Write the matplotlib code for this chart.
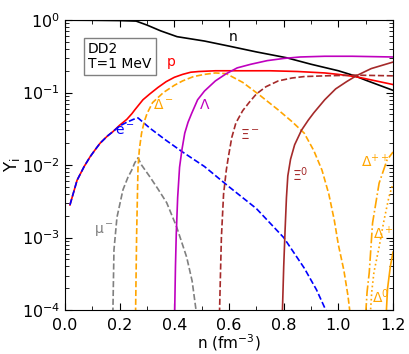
import matplotlib
matplotlib.use("Agg")
import matplotlib.pyplot as plt
import numpy as np

# values, as (density n [fm^-3], log10 Y_i)
n_neutron = [0.0, 0.1, 0.2, 0.26, 0.3, 0.35, 0.41, 0.51, 0.6, 0.7, 0.81, 0.9, 1.0, 1.06, 1.1, 1.15, 1.2]
logY_neutron = [-0.002, -0.004, -0.008, -0.015, -0.07, -0.15, -0.23, -0.29, -0.36, -0.44, -0.52,
                -0.61, -0.70, -0.77, -0.83, -0.90, -0.97]

n_proton = [0.018, 0.044, 0.07, 0.091, 0.11, 0.128, 0.155, 0.175, 0.2, 0.226, 0.245, 0.255,
            0.27, 0.285, 0.31, 0.34, 0.37, 0.40, 0.43, 0.46, 0.49, 0.55, 0.65, 0.75, 0.85,
            0.95, 1.0, 1.06, 1.1, 1.15, 1.2]
logY_proton = [-2.55, -2.21, -2.02, -1.89, -1.79, -1.70, -1.60, -1.54, -1.45, -1.37, -1.29, -1.24,
               -1.17, -1.10, -1.02, -0.93, -0.85, -0.79, -0.75, -0.72, -0.71, -0.70, -0.70,
               -0.70, -0.71, -0.73, -0.75, -0.78, -0.81, -0.85, -0.89]

n_electron = [0.018, 0.044, 0.07, 0.091, 0.11, 0.128, 0.155, 0.175, 0.2, 0.226, 0.25, 0.267,
              0.31, 0.37, 0.43, 0.47, 0.51, 0.6, 0.7, 0.8, 0.875, 0.92, 0.96]
logY_electron = [-2.55, -2.21, -2.02, -1.89, -1.79, -1.70, -1.60, -1.54, -1.46, -1.41, -1.37, -1.35,
                 -1.49, -1.66, -1.82, -1.92, -2.02, -2.3, -2.6, -3.0, -3.42, -3.72, -4.05]

n_muon = [0.175, 0.179, 0.19, 0.212, 0.23, 0.244, 0.255, 0.267, 0.28, 0.31, 0.34, 0.372, 0.408,
          0.445, 0.465, 0.481]
logY_muon = [-4.05, -3.17, -2.72, -2.34, -2.17, -2.07, -1.97, -1.9, -2.0, -2.16, -2.33, -2.52,
             -2.85, -3.27, -3.6, -4.05]

n_delta_m = [0.258, 0.262, 0.267, 0.272, 0.28, 0.29, 0.30, 0.32, 0.36, 0.40, 0.43, 0.47, 0.51,
             0.55, 0.59, 0.65, 0.71, 0.78, 0.83, 0.875, 0.91, 0.94, 0.965, 0.985, 1.0, 1.02,
             1.035, 1.043]
logY_delta_m = [-4.05, -2.94, -2.03, -1.78, -1.56, -1.40, -1.29, -1.14, -1.0, -0.9, -0.84, -0.78,
                -0.75, -0.73, -0.74, -0.86, -1.03, -1.24, -1.4, -1.56, -1.8, -2.07, -2.4, -2.76,
                -3.1, -3.45, -3.8, -4.05]

n_lambda = [0.401, 0.404, 0.407, 0.412, 0.419, 0.428, 0.438, 0.45, 0.463, 0.485, 0.51, 0.55,
            0.59, 0.63, 0.68, 0.74, 0.8, 0.86, 0.95, 1.05, 1.2]
logY_lambda = [-4.05, -3.4, -2.94, -2.45, -2.03, -1.78, -1.56, -1.41, -1.29, -1.1, -0.98, -0.84,
               -0.74, -0.66, -0.61, -0.56, -0.53, -0.51, -0.5, -0.5, -0.51]

n_xi_m = [0.565, 0.572, 0.58, 0.59, 0.597, 0.61, 0.625, 0.65, 0.675, 0.70, 0.735, 0.78, 0.83,
          0.875, 0.95, 1.06, 1.2]
logY_xi_m = [-4.05, -3.0, -2.4, -2.07, -1.9, -1.62, -1.42, -1.25, -1.13, -1.02, -0.92, -0.84,
             -0.8, -0.78, -0.77, -0.76, -0.77]

n_xi_0 = [0.795, 0.80, 0.805, 0.81, 0.815, 0.825, 0.84, 0.865, 0.89, 0.91, 0.95, 0.99, 1.03,
          1.065, 1.12, 1.2]
logY_xi_0 = [-4.05, -3.4, -2.9, -2.45, -2.15, -1.92, -1.72, -1.52, -1.38, -1.28, -1.1, -0.95,
             -0.85, -0.77, -0.67, -0.58]

n_delta_pp = [1.10, 1.105, 1.113, 1.125, 1.149, 1.178, 1.2]
logY_delta_pp = [-4.05, -3.75, -3.48, -2.8, -2.25, -1.93, -1.82]

n_delta_p = [1.117, 1.122, 1.13, 1.149, 1.167, 1.185, 1.2]
logY_delta_p = [-4.05, -3.75, -3.48, -3.13, -2.76, -2.44, -2.25]

n_delta_0 = [1.175, 1.18, 1.19, 1.2]
logY_delta_0 = [-4.05, -3.7, -3.4, -3.2]

# (text, n, Y, colour)
labels = [
    ("n", 0.615, 0.58, "k"),
    ("p", 0.39, 0.26, "r"),
    ("$\\Delta^-$", 0.36, 0.067, "orange"),
    ("$\\mathrm{e}^-$", 0.22, 0.030, "b"),
    ("$\\Lambda$", 0.512, 0.067, "m"),
    ("$\\Xi^-$", 0.677, 0.026, "brown"),
    ("$\\Xi^0$", 0.86, 0.0073, "brown"),
    ("$\\mu^-$", 0.143, 0.00126, "gray"),
    ("$\\Delta^{++}$", 1.134, 0.011, "orange"),
    ("$\\Delta^+$", 1.164, 0.00115, "orange"),
    ("$\\Delta^0$", 1.153, 0.000151, "orange"),
]

plt.rcParams["mathtext.default"] = "regular"

fig = plt.figure(figsize=(4.09, 3.54), dpi=100)
ax = fig.add_axes([0.159, 0.124, 0.802, 0.8195])

lw = 1.2
series = [
    (n_neutron, logY_neutron, "k", "-"),
    (n_proton, logY_proton, "r", "-"),
    (n_electron, logY_electron, "b", "--"),
    (n_muon, logY_muon, "gray", "--"),
    (n_delta_m, logY_delta_m, "orange", "--"),
    (n_lambda, logY_lambda, "m", "-"),
    (n_xi_m, logY_xi_m, "brown", "--"),
    (n_xi_0, logY_xi_0, "brown", "-"),
    (n_delta_pp, logY_delta_pp, "orange", "-."),
    (n_delta_p, logY_delta_p, "orange", ":"),
    (n_delta_0, logY_delta_0, "orange", "-"),
]
for x, logy, c, ls in series:
    ax.plot(x, np.power(10.0, logy), color=c, ls=ls, lw=lw)

for txt, x, y, c in labels:
    ax.text(x, y, txt, color=c, fontsize=10, ha="center", va="center")

ax.text(0.07, 0.925, "DD2\nT=1 MeV", transform=ax.transAxes, fontsize=10,
        ha="left", va="top", linespacing=1.1,
        bbox=dict(boxstyle="square,pad=0.3", fc="white", ec="gray", lw=1))

ax.set_yscale("log")
ax.set_xlim(0, 1.2)
ax.set_ylim(1e-4, 1)
ax.set_xticks(np.arange(0, 1.21, 0.2))
ax.set_xticks(np.arange(0, 1.21, 0.1), minor=True)
ax.set_xticklabels(["0.0", "0.2", "0.4", "0.6", "0.8", "1.0", "1.2"])
ax.tick_params(which="both", direction="in", top=True, right=True, labelsize=11.5)
ax.tick_params(which="major", length=5, width=0.8)
ax.tick_params(which="minor", length=3, width=0.6)
ax.tick_params(axis="x", pad=5.5)

ax.set_xlabel("n (fm$^{-3}$)", fontsize=11, labelpad=-0.5)
ax.set_ylabel("Y$_i$", fontsize=12, labelpad=0)

fig.savefig("out.png", dpi=100)
